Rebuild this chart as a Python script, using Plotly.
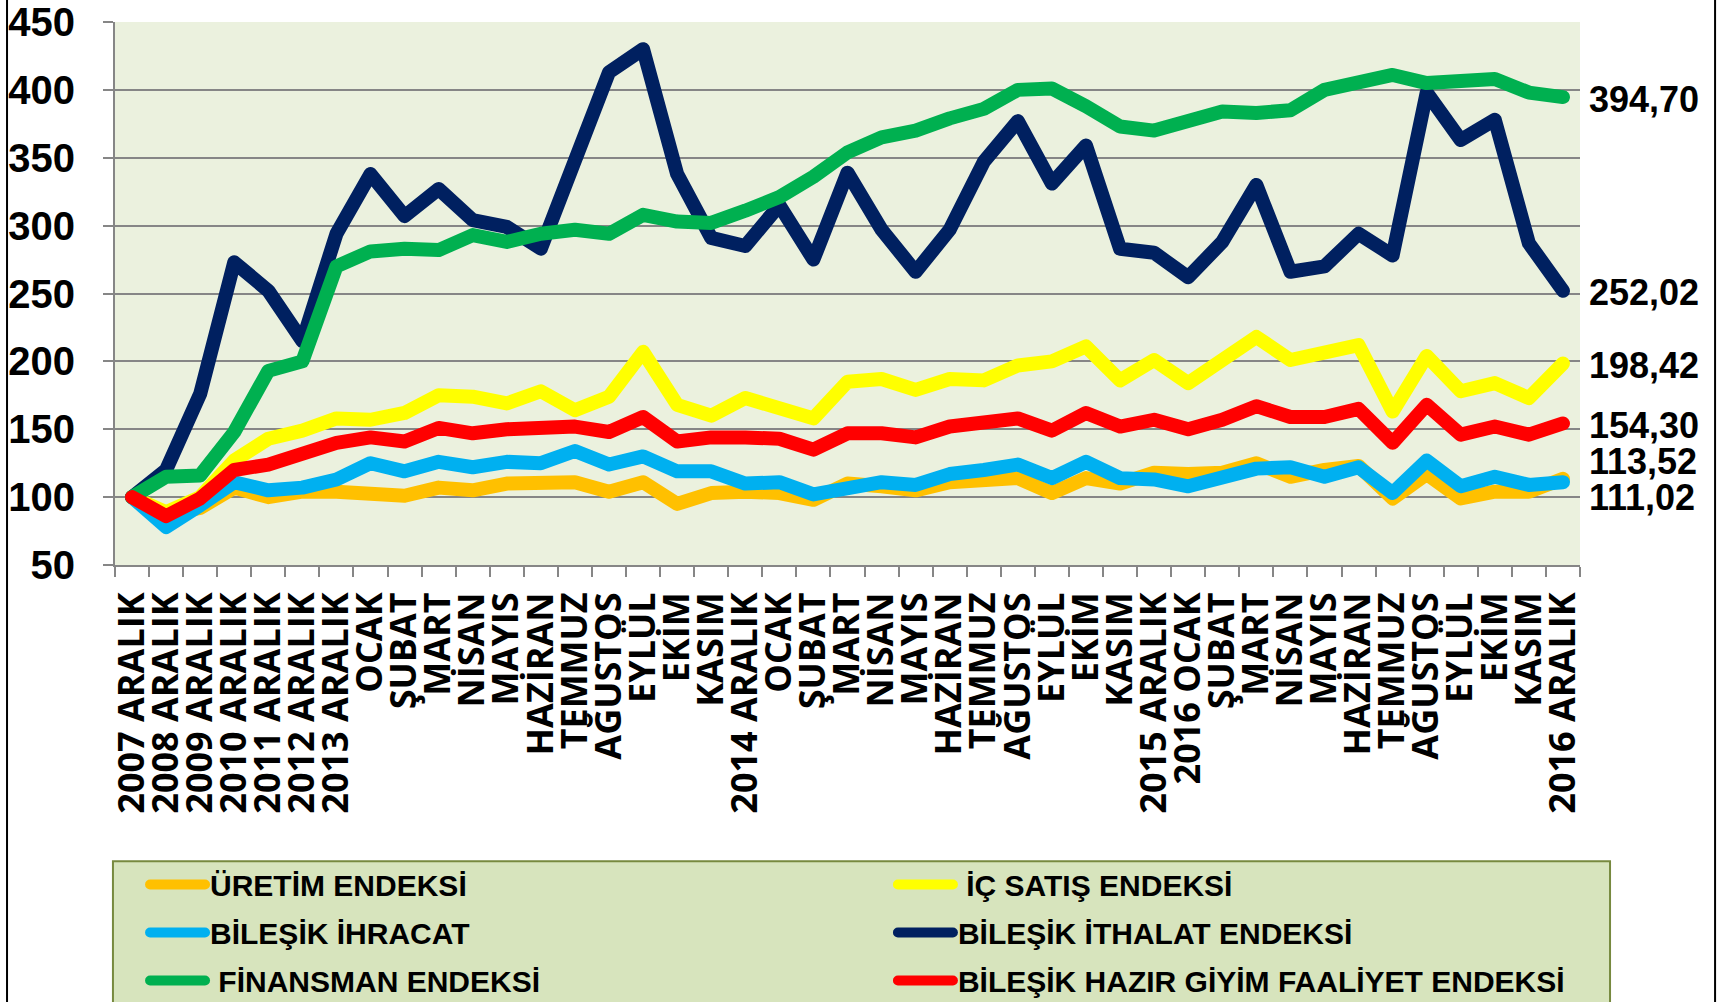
import plotly.graph_objects as go

labels = ["2007 ARALIK", "2008 ARALIK", "2009 ARALIK", "2010 ARALIK", "2011 ARALIK", "2012 ARALIK", "2013 ARALIK",
          "OCAK", "ŞUBAT", "MART", "NİSAN", "MAYIS", "HAZİRAN", "TEMMUZ", "AĞUSTOS", "EYLÜL", "EKİM", "KASIM",
          "2014 ARALIK",
          "OCAK", "ŞUBAT", "MART", "NİSAN", "MAYIS", "HAZİRAN", "TEMMUZ", "AĞUSTOS", "EYLÜL", "EKİM", "KASIM",
          "2015 ARALIK",
          "2016 OCAK", "ŞUBAT", "MART", "NİSAN", "MAYIS", "HAZİRAN", "TEMMUZ", "AĞUSTOS", "EYLÜL", "EKİM", "KASIM",
          "2016 ARALIK"]

uretim = [100, 87, 92, 107, 100, 104, 104, 103, 101, 107,
          105, 110, 111, 111, 104, 111, 95, 103, 104, 103,
          98, 110, 108, 105, 111, 113, 114, 103, 114, 110,
          118, 117, 118, 125, 115, 120, 123, 99, 117, 99,
          104, 104, 113.52]
ic_satis = [100, 89, 100, 127, 143, 149, 158, 157, 162, 175,
            174, 169, 178, 164, 174, 207, 168, 160, 173, 165,
            158, 185, 187, 179, 187, 186, 197, 200, 211, 186,
            201, 184, 201, 218, 201, 207, 212, 163, 204, 178,
            184, 173, 198.42]
ihracat = [100, 78, 94, 111, 105, 107, 113, 125, 119, 126,
           122, 126, 125, 134, 124, 130, 119, 119, 110, 111,
           102, 106, 111, 109, 117, 120, 124, 114, 126, 114,
           113, 108, 115, 121, 122, 115, 122, 103, 127, 108,
           115, 109, 111.02]
ithalat = [100, 120, 176, 273, 252, 215, 294, 338, 307, 327,
           304, 299, 283, 348, 413, 430, 338, 291, 285, 315,
           275, 339, 297, 266, 297, 347, 377, 331, 359, 283,
           280, 262, 288, 330, 266, 270, 294, 278, 398, 363,
           378, 287, 252.02]
finansman = [100, 115, 116, 148, 193, 200, 270, 281, 283, 282,
             293, 288, 294, 297, 294, 308, 303, 302, 311, 321,
             336, 354, 365, 370, 379, 386, 400, 401, 388, 373,
             370, 376, 384, 383, 385, 400, 405, 411, 405, 407,
             408, 398, 394.70]
hazir_giyim = [100, 86, 99, 120, 124, 133, 140, 144, 141, 151,
               147, 150, 152, 152, 148, 159, 141, 144, 144, 143,
               135, 147, 147, 144, 152, 154, 158, 149, 162, 152,
               157, 150, 157, 167, 159, 159, 165, 140, 168, 146,
               152, 146, 154.30]

series_names = ["ÜRETİM ENDEKSİ", "\u00a0İÇ SATIŞ ENDEKSİ", "BİLEŞİK İHRACAT",
                "BİLEŞİK İTHALAT ENDEKSİ", "\u00a0FİNANSMAN ENDEKSİ",
                "BİLEŞİK HAZIR GİYİM FAALİYET ENDEKSİ"]
end_labels = ["113,52", "198,42", "111,02", "252,02", "394,70", "154,30"]

series_values = [uretim, ic_satis, ihracat, ithalat, finansman, hazir_giyim]
colors = ["#FFC000", "#FFFF00", "#00B0F0", "#002060", "#00B050", "#FF0000"]
legend_ids = ["legend", "legend2", "legend", "legend2", "legend", "legend2"]
label_yshift = [17, -2, -15, -2, -2, -2]

x = list(range(len(labels)))

fig = go.Figure()
for i, (name, vals, col, lg) in enumerate(zip(series_names, series_values, colors, legend_ids)):
    fig.add_trace(go.Scatter(x=x, y=vals, mode="lines", name=name,
                             legend=lg, legendgroup="g%d" % i,
                             line=dict(color=col, width=14)))

for vals, lab, ys in zip(series_values, end_labels, label_yshift):
    fig.add_annotation(x=1, xref="paper", xshift=7, xanchor="left",
                       y=vals[-1], yref="y", yshift=ys, yanchor="middle",
                       text=lab, showarrow=False,
                       font=dict(family="Liberation Sans, Arial", size=36, color="black", weight="bold"))

# outer chart border (left/right)
fig.add_shape(type="rect", xref="paper", yref="paper",
              x0=-0.0737, x1=1.0922, y0=-1.0, y1=1.3,
              line=dict(color="black", width=2), fillcolor="rgba(0,0,0,0)", layer="below")
# legend box
fig.add_shape(type="rect", xref="paper", yref="paper",
              x0=-0.0014, x1=1.0205, y0=-1.0, y1=-0.5455,
              line=dict(color="#77893F", width=2), fillcolor="#D7E4BD", layer="below")

legend_font = dict(family="Liberation Sans, Arial", size=30, color="black", weight="bold")
common_legend = dict(orientation="v", xanchor="left", y=-0.5405, yanchor="top",
                     bgcolor="rgba(0,0,0,0)", borderwidth=0, font=legend_font,
                     itemwidth=55, traceorder="grouped", tracegroupgap=6)

fig.update_layout(
    width=1727, height=1002,
    margin=dict(l=115, r=147, t=22, b=437, autoexpand=False),
    paper_bgcolor="white", plot_bgcolor="#EBF1DE",
    showlegend=True,
    legend=dict(x=0.0205, **common_legend),
    legend2=dict(x=0.531, **common_legend),
    xaxis=dict(range=[-0.5, 42.5], tickmode="array", tickvals=x, ticktext=labels,
               tickangle=-90, ticks="", showgrid=False, zeroline=False,
               showline=True, linecolor="#868686", linewidth=2,
               tickfont=dict(family="Open Sans", size=36, color="black", weight="bold"),
               ticklabelstandoff=11,
               minor=dict(tick0=0.5, dtick=1, ticks="outside", ticklen=10,
                          tickcolor="#868686", tickwidth=2, showgrid=False)),
    yaxis=dict(range=[50, 450], tickmode="array", tickvals=[50, 100, 150, 200, 250, 300, 350, 400, 450],
               ticks="outside", ticklen=10, tickcolor="#868686", tickwidth=2,
               showgrid=True, gridcolor="#868686", gridwidth=2, zeroline=False,
               showline=True, linecolor="#868686", linewidth=2,
               tickfont=dict(family="Liberation Sans, Arial", size=40, color="black", weight="bold"),
               ticklabelstandoff=20),
)

post = """
var s=document.createElement('style');
s.innerHTML='body{margin:0;overflow:hidden} .js-line{stroke-linejoin:round;stroke-linecap:round}';
document.head.appendChild(s);
"""
fig.write_html("out.html", post_script=post, config={"displayModeBar": False})
